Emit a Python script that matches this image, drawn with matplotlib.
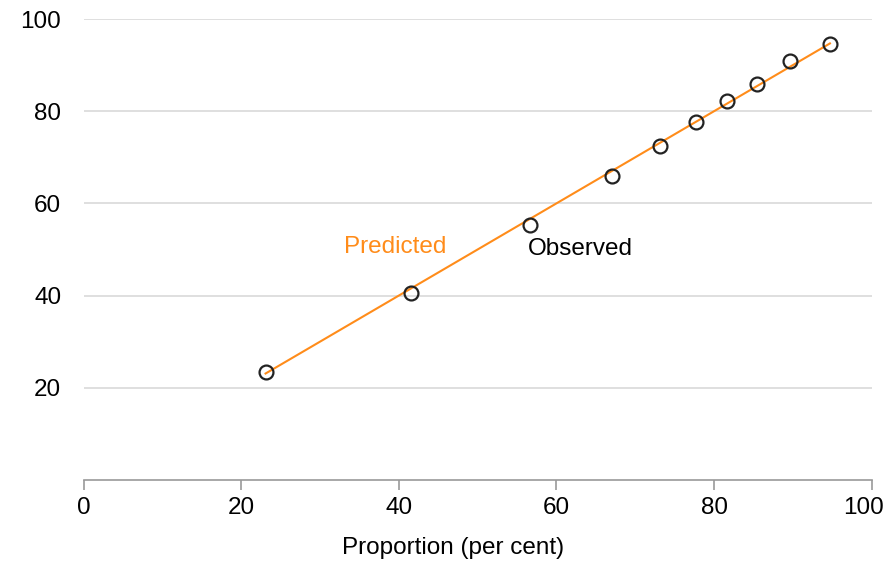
import matplotlib
matplotlib.use("Agg")
import matplotlib.pyplot as plt
import matplotlib.transforms as mtransforms

plt.rcParams['font.family'] = ['Liberation Sans', 'DejaVu Sans']

proportion = [23.1, 41.6, 56.7, 67.0, 73.2, 77.7, 81.6, 85.4, 89.6, 94.7]
observed = [23.4, 40.5, 55.3, 66.0, 72.5, 77.6, 82.2, 85.9, 90.9, 94.5]
predicted = [23.1, 41.6, 56.7, 67.0, 73.2, 77.7, 81.6, 85.4, 89.6, 94.7]
x_ticks = [0, 20, 40, 60, 80, 100]
y_ticks = [20, 40, 60, 80, 100]

fig = plt.figure(figsize=(8.9, 5.64), dpi=100)
ax = fig.add_axes([83.5/890, 1-480/564, (871.7-83.5)/890, (480-19)/564])

orange = '#ff8c1a'
fs = 17.5
ax.plot(proportion, predicted, color=orange, lw=1.5, zorder=2)
ax.plot(proportion, observed, linestyle='none', marker='o', markersize=10,
        markerfacecolor='none', markeredgecolor='#222222', markeredgewidth=1.6, zorder=3)

ax.text(39.6, 50.6, 'Predicted', color=orange, fontsize=fs, ha='center', va='center')
ax.text(63.0, 50.2, 'Observed', color='black', fontsize=fs, ha='center', va='center')

ax.set_xlim(0, 100)
ax.set_ylim(0, 100)
ax.set_xticks(x_ticks)
ax.set_yticks(y_ticks)
ax.grid(axis='y', color='#d9d9d9', lw=1.2)
ax.set_axisbelow(True)
for s in ['left', 'right', 'top']:
    ax.spines[s].set_visible(False)
ax.spines['bottom'].set_color('#999999')
ax.spines['bottom'].set_linewidth(1.2)
ax.tick_params(axis='x', colors='#999999', length=7, width=1.2, labelsize=fs, labelcolor='black', pad=5)
ax.tick_params(axis='y', length=0, labelsize=fs, labelcolor='black', pad=16)
ax.set_xlabel('Proportion (per cent)', fontsize=fs)
ax.xaxis.label.set_va('center')
ax.xaxis.set_label_coords((453.5 - 83.5) / (871.7 - 83.5), (480 - 548) / (480 - 19))

last = ax.get_xticklabels()[-1]
last.set_transform(last.get_transform() + mtransforms.ScaledTranslation(-8/100, 0, fig.dpi_scale_trans))

fig.savefig('out.png', dpi=100)
